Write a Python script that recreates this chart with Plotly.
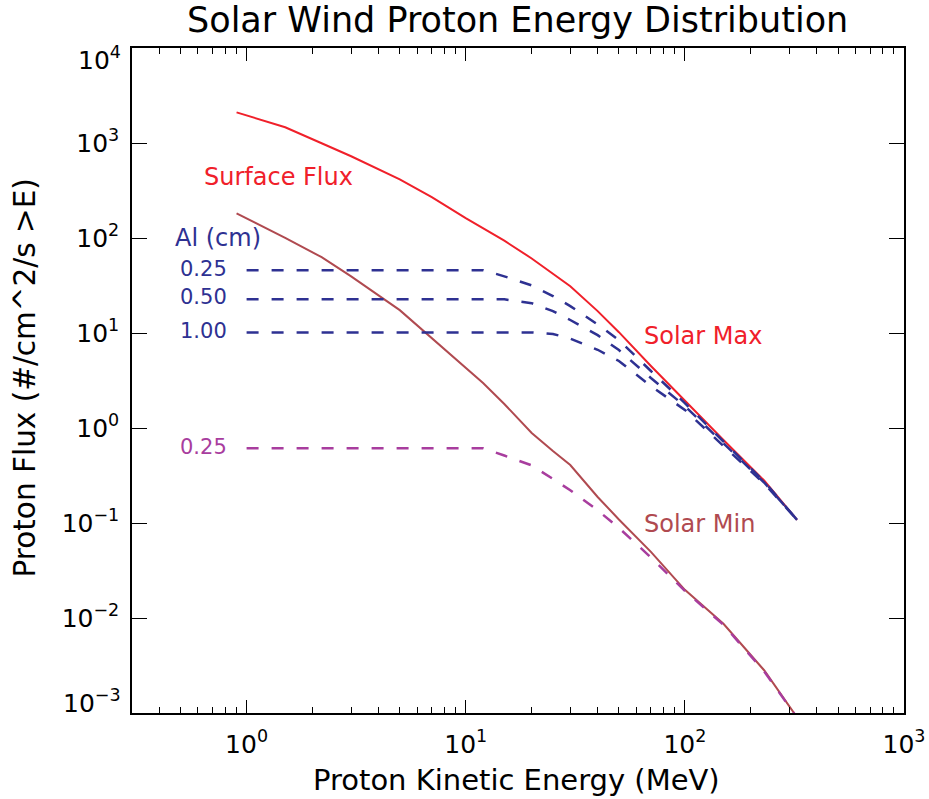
import plotly.graph_objects as go

# ---- data ----
energy_full = [0.9, 1.5, 2.2, 3, 5, 7, 10, 12, 15, 20, 25, 30, 40, 50, 70, 100, 150, 230, 325]
solar_max = [2102, 1463, 993, 725, 415, 269, 162, 127, 93.7, 60.9, 42.1, 31.1, 17.0, 10.2,
             4.49, 1.92, 0.748, 0.280, 0.108]
solar_min = [182, 100.5, 62.8, 39.4, 17.4, 8.84, 4.38, 2.97, 1.79, 0.886, 0.573, 0.408, 0.188,
             0.109, 0.0497, 0.0198, 0.00869, 0.00282, 0.00090]

energy_sh = [1.0, 12, 15, 20, 25, 30, 40, 50, 70, 100, 150, 230, 325]
max_al025 = [45.9, 45.9, 39.5, 31.7, 24.5, 19.2, 12.3, 8.42, 3.98, 1.83, 0.721, 0.274, 0.108]
max_al050 = [22.6, 22.6, 22.6, 20.6, 17.0, 13.7, 9.50, 6.61, 3.36, 1.70, 0.687, 0.267, 0.108]
max_al100 = [10.15, 10.15, 10.15, 10.15, 9.78, 8.73, 6.66, 5.07, 2.76, 1.55, 0.647, 0.261, 0.108]
min_al025 = [0.612, 0.612, 0.513, 0.404, 0.291, 0.221, 0.136, 0.0888, 0.0434, 0.0193,
             0.00848, 0.00275, 0.000893]

x_tickvals = [1, 10, 100, 1000]
x_ticktext = ["10<sup>0</sup>", "10<sup>1</sup>", "10<sup>2</sup>", "10<sup>3</sup>"]
x_minor = [0.3, 0.4, 0.5, 0.6, 0.7, 0.8, 0.9, 2, 3, 4, 5, 6, 7, 8, 9,
           20, 30, 40, 50, 60, 70, 80, 90, 200, 300, 400, 500, 600, 700, 800, 900]
y_tickvals = [1e-3, 1e-2, 1e-1, 1, 10, 100, 1000, 10000]
# end labels (10^-3 and 10^4) are drawn as annotations kept inside the axis span, like the reference
y_ticktext = ["", "10<sup>\u22122</sup>", "10<sup>\u22121</sup>",
              "10<sup>0</sup>", "10<sup>1</sup>", "10<sup>2</sup>", "10<sup>3</sup>", ""]
y_end_bottom = "10<sup>\u22123</sup>"
y_end_top = "10<sup>4</sup>"

RED = "#f0202a"
BROWN = "#b04a50"
NAVY = "#2e3192"
PURPLE = "#a83d9e"
FONT = "DejaVu Sans"
DASH = "12px,13px"

fig = go.Figure()
fig.add_trace(go.Scatter(x=energy_full, y=solar_max, mode="lines",
                         line=dict(color=RED, width=2)))
fig.add_trace(go.Scatter(x=energy_full, y=solar_min, mode="lines",
                         line=dict(color=BROWN, width=2)))
for ys in (max_al025, max_al050, max_al100):
    fig.add_trace(go.Scatter(x=energy_sh, y=ys, mode="lines",
                             line=dict(color=NAVY, width=2.5, dash=DASH)))
fig.add_trace(go.Scatter(x=energy_sh, y=min_al025, mode="lines",
                         line=dict(color=PURPLE, width=2.5, dash=DASH)))

def label(text, x, y, color, size, xanchor):
    fig.add_annotation(text=text, x=x, y=y, xref="x", yref="y", showarrow=False,
                       xanchor=xanchor, yanchor="middle",
                       font=dict(family=FONT, size=size, color=color))

label("Surface Flux", -0.2055, 2.645, RED, 24, "left")
label("Al (cm)", -0.3365, 2.003, NAVY, 24, "left")
label("0.25", -0.0785, 1.677, NAVY, 21, "right")
label("0.50", -0.0785, 1.377, NAVY, 21, "right")
label("1.00", -0.0785, 1.020, NAVY, 21, "right")
label("0.25", -0.0785, -0.200, PURPLE, 21, "right")
label("Solar Max", 1.8037, 0.9727, RED, 24, "left")
label("Solar Min", 1.8037, -1.0095, BROWN, 24, "left")

fig.add_annotation(text="Solar Wind Proton Energy Distribution", xref="paper", yref="paper",
                   x=0.499, y=1.042, showarrow=False, xanchor="center", yanchor="middle",
                   font=dict(family=FONT, size=35, color="black"))
fig.add_annotation(text="Proton Kinetic Energy (MeV)", xref="paper", yref="paper",
                   x=0.498, y=-0.101, showarrow=False, xanchor="center", yanchor="middle",
                   font=dict(family=FONT, size=29, color="black"))
fig.add_annotation(text="Proton Flux (#/cm^2/s >E)", xref="paper", yref="paper",
                   x=-0.1386, y=0.503, showarrow=False, xanchor="center", yanchor="middle",
                   textangle=-90, font=dict(family=FONT, size=29.5, color="black"))
fig.add_annotation(text=y_end_top, xref="paper", yref="paper", x=-0.0117, y=0.984,
                   showarrow=False, xanchor="right", yanchor="middle",
                   font=dict(family=FONT, size=25, color="black"))
fig.add_annotation(text=y_end_bottom, xref="paper", yref="paper", x=-0.0117, y=0.018,
                   showarrow=False, xanchor="right", yanchor="middle",
                   font=dict(family=FONT, size=25, color="black"))

fig.update_xaxes(type="log", range=[-0.5229, 3], tickvals=x_tickvals, ticktext=x_ticktext,
                 ticks="inside", ticklen=13, tickwidth=1, tickcolor="black",
                 showline=True, linecolor="black", linewidth=1.5, mirror="ticks",
                 showgrid=False, zeroline=False, ticklabelstandoff=8,
                 tickfont=dict(family=FONT, size=25, color="black"),
                 minor=dict(tickvals=x_minor, ticks="inside", ticklen=6, tickwidth=1,
                            tickcolor="black", showgrid=False))
fig.update_yaxes(type="log", range=[-3, 4], tickvals=y_tickvals, ticktext=y_ticktext,
                 ticks="inside", ticklen=15, tickwidth=1, tickcolor="black",
                 showline=True, linecolor="black", linewidth=1.5, mirror="ticks",
                 showgrid=False, zeroline=False, ticklabelstandoff=6,
                 tickfont=dict(family=FONT, size=25, color="black"))

fig.update_layout(width=929, height=799, showlegend=False,
                  margin=dict(l=132, r=25, t=48, b=86, autoexpand=False),
                  paper_bgcolor="white", plot_bgcolor="white")

fig.write_html("out.html")
